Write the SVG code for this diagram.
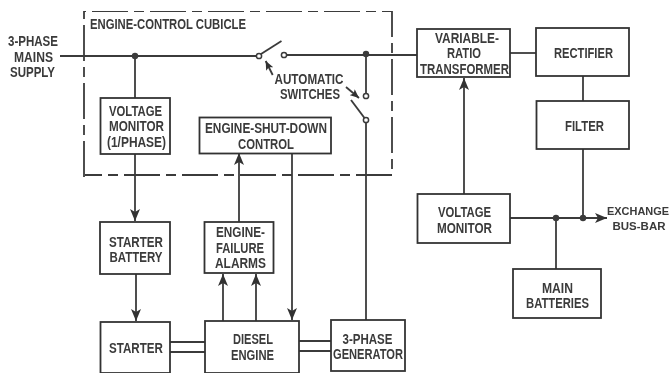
<svg xmlns="http://www.w3.org/2000/svg" width="672" height="375" viewBox="0 0 672 375">
<style>
text{font-family:"Liberation Sans",Arial,sans-serif;font-weight:700;font-size:14px;fill:#3a3a3a;text-anchor:middle}
.b{fill:#fff;stroke:#333;stroke-width:1.8}
.l{fill:none;stroke:#3a3a3a;stroke-width:1.8}
.d{fill:#3a3a3a}
.o{fill:#fff;stroke:#3a3a3a;stroke-width:1.5}
</style>
<defs>
<marker id="a" markerUnits="userSpaceOnUse" markerWidth="13" markerHeight="10" refX="12" refY="5" orient="auto"><path d="M0 0L12 5L0 10L3 5Z" fill="#333"/></marker>
<marker id="s" markerUnits="userSpaceOnUse" markerWidth="10" markerHeight="8" refX="9" refY="4" orient="auto"><path d="M0 0L9 4L0 8L2 4Z" fill="#333"/></marker>
<filter id="soft" x="0" y="0" width="100%" height="100%"><feGaussianBlur stdDeviation="0.45"/></filter>
</defs>
<rect width="672" height="375" fill="#fff"/>
<g filter="url(#soft)">
<g id="connectors">
<path class="l" d="M84 177V11H392V175H85" stroke-dasharray="36 6 10 6" id="cubicle"/>
<path class="l" d="M60 56H256.500"/>
<path class="l" d="M261 54L281.500 41"/>
<path class="l" d="M287 55H417"/>
<path class="l" d="M135 56V98"/>
<path class="l" d="M366 54V93"/>
<path class="l" d="M351 100L364.500 118"/>
<path class="l" d="M366 122.500V320"/>
<path class="l" d="M510 53H536"/>
<path class="l" d="M583 76V101"/>
<path class="l" d="M583 149V218"/>
<path class="l" d="M556 218V269"/>
<path class="l" d="M510 218H607" marker-end="url(#a)"/>
<path class="l" d="M464 194V78" marker-end="url(#a)"/>
<path class="l" d="M135 154V221" marker-end="url(#a)"/>
<path class="l" d="M136 274V321" marker-end="url(#a)"/>
<path class="l" d="M239 222V153" marker-end="url(#a)"/>
<path class="l" d="M292 153V320" marker-end="url(#a)"/>
<path class="l" d="M223 321V274" marker-end="url(#a)"/>
<path class="l" d="M256 321V274" marker-end="url(#a)"/>
<path class="l" d="M272.700 75L265.700 61" stroke-width="1.4" marker-end="url(#s)"/>
<path class="l" d="M346 87L359 98" stroke-width="1.4" marker-end="url(#s)"/>
<path class="l" d="M170 342H205M170 352H205M299 341H331M299 351H331"/>
<circle class="d" cx="135" cy="56" r="3.2"/>
<circle class="d" cx="366" cy="54" r="3.2"/>
<circle class="d" cx="556" cy="218" r="3.2"/>
<circle class="d" cx="583" cy="218" r="3.2"/>
<circle class="o" cx="259" cy="56" r="2.6"/>
<circle class="o" cx="284" cy="55" r="2.6"/>
<circle class="o" cx="366" cy="96" r="2.6"/>
<circle class="o" cx="366" cy="120" r="2.6"/>
</g>
<g id="labels">
<text x="168" y="29" textLength="156" lengthAdjust="spacingAndGlyphs">ENGINE-CONTROL CUBICLE</text>
<text x="33" y="46" textLength="50" lengthAdjust="spacingAndGlyphs">3-PHASE</text>
<text x="33.500" y="62" textLength="39" lengthAdjust="spacingAndGlyphs">MAINS</text>
<text x="32.500" y="77" textLength="45" lengthAdjust="spacingAndGlyphs">SUPPLY</text>
<text x="309" y="84" textLength="69" lengthAdjust="spacingAndGlyphs">AUTOMATIC</text>
<text x="310" y="99" textLength="60" lengthAdjust="spacingAndGlyphs">SWITCHES</text>
<text x="638" y="215" font-size="11" style="font-size:11px" textLength="62" lengthAdjust="spacingAndGlyphs">EXCHANGE</text>
<text x="639" y="230" font-size="11" style="font-size:11px" textLength="53" lengthAdjust="spacingAndGlyphs">BUS-BAR</text>
</g>
<g id="n1"><rect class="b" x="100.500" y="98" width="69.500" height="56"/><text x="135.500" y="116" textLength="53" lengthAdjust="spacingAndGlyphs">VOLTAGE</text><text x="136.500" y="131" textLength="55" lengthAdjust="spacingAndGlyphs">MONITOR</text><text x="136.500" y="147" textLength="59" lengthAdjust="spacingAndGlyphs">(1/PHASE)</text></g>
<g id="n2"><rect class="b" x="199.500" y="117.500" width="131.500" height="36"/><text x="266" y="133" textLength="122" lengthAdjust="spacingAndGlyphs">ENGINE-SHUT-DOWN</text><text x="266" y="149" textLength="56" lengthAdjust="spacingAndGlyphs">CONTROL</text></g>
<g id="n3"><rect class="b" x="417" y="29" width="93" height="48"/><text x="467" y="43" textLength="64" lengthAdjust="spacingAndGlyphs">VARIABLE-</text><text x="464" y="58" textLength="34" lengthAdjust="spacingAndGlyphs">RATIO</text><text x="464.500" y="74" textLength="89" lengthAdjust="spacingAndGlyphs">TRANSFORMER</text></g>
<g id="n4"><rect class="b" x="536" y="28" width="93" height="48"/><text x="583.500" y="58" textLength="59" lengthAdjust="spacingAndGlyphs">RECTIFIER</text></g>
<g id="n5"><rect class="b" x="536.500" y="101" width="92.500" height="48"/><text x="584.500" y="131" textLength="39" lengthAdjust="spacingAndGlyphs">FILTER</text></g>
<g id="n6"><rect class="b" x="417.500" y="194" width="92.500" height="49"/><text x="464.500" y="217" textLength="53" lengthAdjust="spacingAndGlyphs">VOLTAGE</text><text x="464.500" y="233" textLength="55" lengthAdjust="spacingAndGlyphs">MONITOR</text></g>
<g id="n7"><rect class="b" x="513" y="269" width="88" height="49"/><text x="557.500" y="293" textLength="31" lengthAdjust="spacingAndGlyphs">MAIN</text><text x="557.500" y="308" textLength="63" lengthAdjust="spacingAndGlyphs">BATTERIES</text></g>
<g id="n8"><rect class="b" x="100" y="222" width="70" height="52"/><text x="136" y="247" textLength="54" lengthAdjust="spacingAndGlyphs">STARTER</text><text x="136" y="262" textLength="53" lengthAdjust="spacingAndGlyphs">BATTERY</text></g>
<g id="n9"><rect class="b" x="204.500" y="222" width="69" height="51"/><text x="240.500" y="237" textLength="49" lengthAdjust="spacingAndGlyphs">ENGINE-</text><text x="240" y="253" textLength="48" lengthAdjust="spacingAndGlyphs">FAILURE</text><text x="240.500" y="268" textLength="51" lengthAdjust="spacingAndGlyphs">ALARMS</text></g>
<g id="n10"><rect class="b" x="100.500" y="322" width="69.500" height="51"/><text x="136" y="353" textLength="54" lengthAdjust="spacingAndGlyphs">STARTER</text></g>
<g id="n11"><rect class="b" x="205" y="321" width="94" height="52"/><text x="253" y="344" textLength="40" lengthAdjust="spacingAndGlyphs">DIESEL</text><text x="252.500" y="360" textLength="43" lengthAdjust="spacingAndGlyphs">ENGINE</text></g>
<g id="n12"><rect class="b" x="331" y="320" width="74" height="51"/><text x="367.500" y="344" textLength="50" lengthAdjust="spacingAndGlyphs">3-PHASE</text><text x="368" y="359" textLength="70" lengthAdjust="spacingAndGlyphs">GENERATOR</text></g>
</g>
</svg>
